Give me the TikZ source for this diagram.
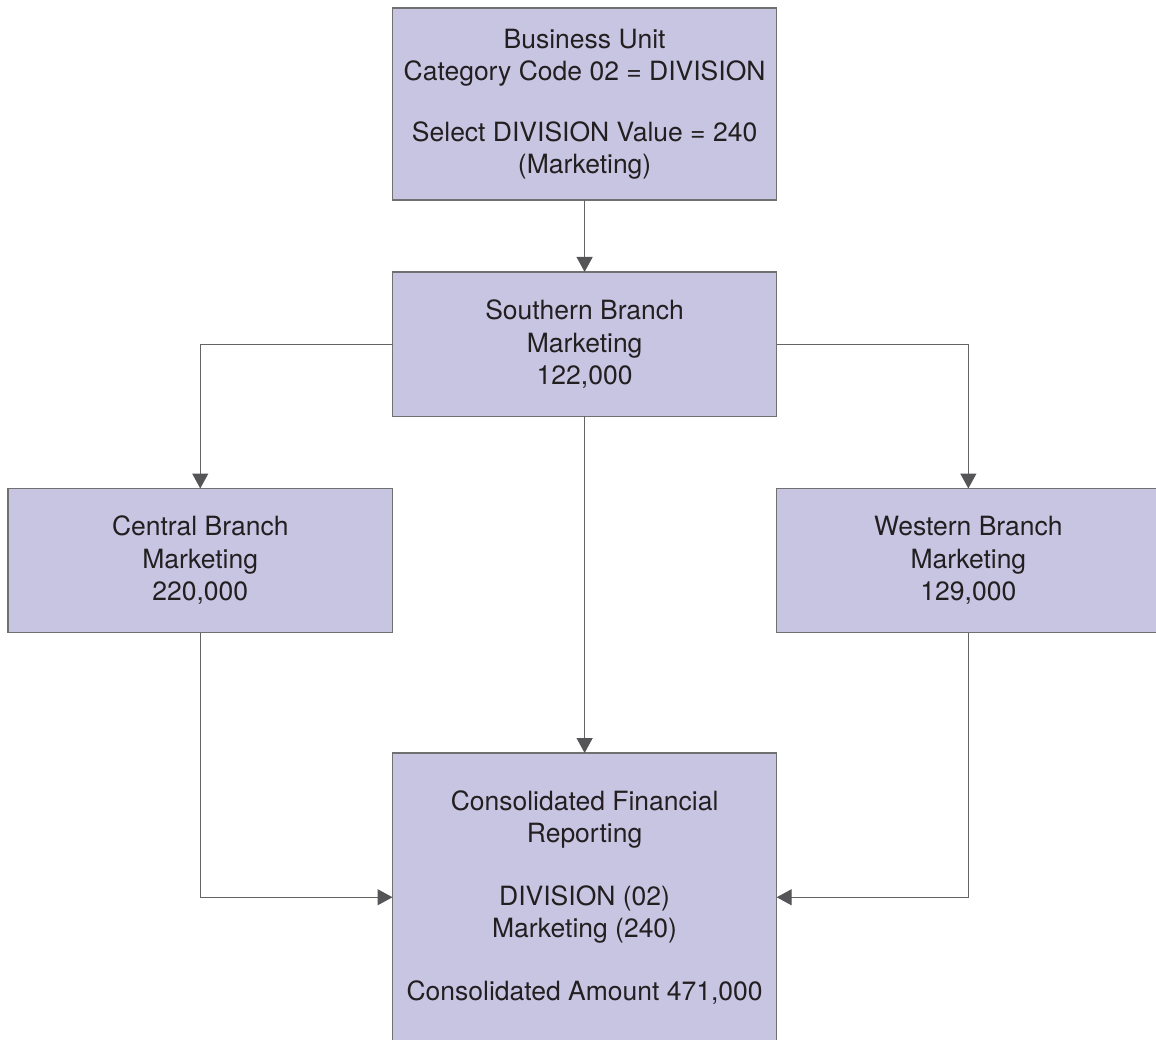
\documentclass[tikz,border=0pt]{standalone}
\usepackage{fontspec}
\setmainfont{TeX Gyre Heros}
\usetikzlibrary{arrows.meta}
\definecolor{boxfill}{RGB}{200,197,227}
\definecolor{boxline}{RGB}{112,112,112}
\definecolor{conline}{RGB}{100,100,100}
\definecolor{tipcol}{RGB}{85,85,88}
\definecolor{txtcol}{RGB}{35,31,32}
\tikzset{
  unitbox/.style={draw=boxline, fill=boxfill, line width=1.5pt, inner sep=0pt, outer sep=0pt,
    align=center, text=txtcol, font=\fontsize{26.5pt}{32.5pt}\selectfont},
  flow/.style={draw=conline, line width=1.3pt,
    -{Triangle[length=15pt,width=16pt,fill=tipcol,color=tipcol]}}
}
\begin{document}
\begin{tikzpicture}[x=1pt,y=-1pt]
\useasboundingbox (0,0) rectangle (1156,1040);
\clip (0,0) rectangle (1156,1040);
\node[unitbox, minimum width=384.2pt, minimum height=192pt] (top) at (584.6,104)
  {Business Unit\\Category Code 02 = DIVISION\\[28pt]Select DIVISION Value = 240\\(Marketing)};
\node[unitbox, minimum width=384.2pt, minimum height=144.5pt] (south) at (584.6,344.2)
  {Southern Branch\\Marketing\\122,000};
\node[unitbox, minimum width=384.5pt, minimum height=144pt] (central) at (200.25,560.5)
  {Central Branch\\Marketing\\220,000};
\node[unitbox, minimum width=383.3pt, minimum height=144pt] (west) at (968.35,560.5)
  {Western Branch\\Marketing\\129,000};
\node[unitbox, minimum width=384.2pt, minimum height=288.5pt] (bottom) at (584.6,897.25)
  {Consolidated Financial\\Reporting\\[30pt]DIVISION (02)\\Marketing (240)\\[30pt]Consolidated Amount 471,000};
\draw[flow] (top.south) -- (south.north);
\draw[flow] (south.west) -| (central.north);
\draw[flow] (south.east) -| (west.north);
\draw[flow] (south.south) -- (bottom.north);
\draw[flow] (central.south) |- (bottom.west);
\draw[flow] (west.south) |- (bottom.east);
\end{tikzpicture}
\end{document}
